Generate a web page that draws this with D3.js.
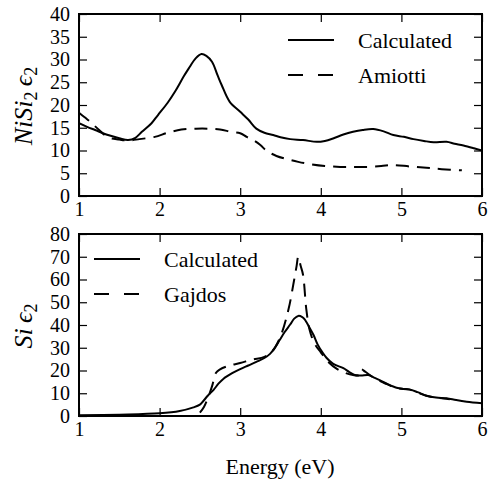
<!DOCTYPE html>
<html>
<head>
<meta charset="utf-8">
<script src="https://cdn.jsdelivr.net/npm/d3@7"></script>
</head>
<body style="margin:0">
<svg id="chart" width="490" height="487" font-family="Liberation Serif"></svg>
<script>
// ---- Data ----
const xTicks = [1, 2, 3, 4, 5, 6];
const topYTicks = [0, 5, 10, 15, 20, 25, 30, 35, 40];
const bottomYTicks = [0, 10, 20, 30, 40, 50, 60, 70, 80];

// NiSi2 eps2, calculated [energy, value]
const nisiCalculated = [
  [1.0,16.0],[1.1,15.2],[1.2,14.5],[1.36,13.4],[1.5,12.7],[1.61,12.3],[1.7,12.8],[1.78,14.1],
  [1.9,16.0],[1.98,17.8],[2.1,20.5],[2.19,22.9],[2.3,26.3],[2.36,28.0],[2.45,30.3],[2.52,31.2],
  [2.58,30.8],[2.65,29.5],[2.72,26.5],[2.77,24.4],[2.87,20.7],[3.0,18.5],[3.1,16.8],[3.2,14.8],
  [3.3,13.9],[3.41,13.4],[3.5,12.9],[3.62,12.5],[3.78,12.3],[3.95,11.9],[4.05,12.1],[4.16,12.7],
  [4.28,13.5],[4.4,14.1],[4.52,14.5],[4.65,14.7],[4.78,14.2],[4.9,13.4],[5.03,13.0],[5.15,12.5],
  [5.28,12.1],[5.4,11.8],[5.56,11.9],[5.66,11.5],[5.77,11.1],[5.9,10.5],[6.0,10.0]
];
// NiSi2 eps2, Amiotti
const nisiAmiotti = [
  [1.0,18.3],[1.07,17.3],[1.14,16.3],[1.25,14.5],[1.36,12.9],[1.5,12.4],[1.61,12.2],[1.75,12.5],
  [1.94,13.0],[2.1,13.9],[2.27,14.6],[2.45,14.8],[2.6,14.8],[2.75,14.6],[2.89,14.1],[3.0,13.8],
  [3.08,13.0],[3.17,12.2],[3.25,11.2],[3.33,9.9],[3.45,8.8],[3.58,8.1],[3.72,7.5],[3.87,7.0],
  [4.05,6.6],[4.24,6.4],[4.4,6.4],[4.57,6.4],[4.75,6.6],[4.9,6.8],[5.1,6.5],[5.31,6.2],
  [5.5,5.9],[5.75,5.65]
];
// Si eps2, calculated
const siCalculated = [
  [1.0,0.3],[1.5,0.6],[2.0,1.2],[2.25,2.2],[2.42,3.8],[2.5,5.0],[2.54,6.5],[2.6,9.0],[2.67,11.5],
  [2.73,14.2],[2.79,16.3],[2.9,18.8],[3.0,20.6],[3.1,22.2],[3.2,23.8],[3.3,25.5],[3.37,27.3],
  [3.43,30.0],[3.49,33.4],[3.55,36.8],[3.62,40.2],[3.67,42.8],[3.72,44.0],[3.77,43.5],[3.8,42.5],
  [3.86,38.8],[3.91,35.6],[3.96,31.5],[4.02,28.0],[4.07,25.6],[4.15,23.0],[4.28,21.0],[4.35,19.4],
  [4.42,18.0],[4.5,17.8],[4.59,18.0],[4.66,16.9],[4.73,15.8],[4.83,14.0],[4.94,12.4],[5.02,11.9],
  [5.1,11.7],[5.2,10.5],[5.31,8.9],[5.43,8.1],[5.56,7.8],[5.68,7.0],[5.81,6.3],[6.0,5.6]
];
// Si eps2, Gajdos
const siGajdos = [
  [2.5,1.5],[2.55,4.0],[2.6,8.0],[2.65,13.0],[2.7,19.0],[2.75,20.5],[2.85,22.0],[3.0,23.3],
  [3.15,24.8],[3.3,26.0],[3.4,28.5],[3.5,35.0],[3.6,47.0],[3.66,58.0],[3.7,66.0],[3.72,70.0],
  [3.75,66.0],[3.78,62.0],[3.82,47.0],[3.86,38.0],[3.92,32.0],[4.0,28.0],[4.1,23.5],[4.2,20.7],
  [4.3,19.0],[4.4,18.0],[4.48,18.0],[4.5,20.5],[4.55,19.5],[4.65,17.0],[4.8,14.3],[4.95,12.2],
  [5.1,11.6],[5.3,9.0],[5.45,8.0],[5.6,7.4]
];

const topLegend = ["Calculated", "Amiotti"];
const bottomLegend = ["Calculated", "Gajdos"];

// ---- Layout ----
const svg = d3.select("#chart");
const L = 79, R = 482;
const panels = [
  { top: 14, bottom: 196, domain: [0, 40], ticks: topYTicks,
    series: [nisiCalculated, nisiAmiotti], legend: topLegend,
    legX: 288, legY: 40, legGap: 35, label: ["NiSi", "2"], labelY: 106 },
  { top: 234, bottom: 416, domain: [0, 80], ticks: bottomYTicks,
    series: [siCalculated, siGajdos], legend: bottomLegend,
    legX: 94, legY: 259, legGap: 35, label: ["Si", null], labelY: 326 }
];

const x = d3.scaleLinear().domain([1, 6]).range([L, R]);

panels.forEach((p, i) => {
  const y = d3.scaleLinear().domain(p.domain).range([p.bottom, p.top]);
  const g = svg.append("g");

  const clipId = "clip" + i;
  svg.append("clipPath").attr("id", clipId)
    .append("rect").attr("x", L).attr("y", p.top).attr("width", R - L).attr("height", p.bottom - p.top);

  const line = d3.line().x(d => x(d[0])).y(d => y(d[1])).curve(d3.curveCatmullRom.alpha(0.5));

  g.append("path").datum(p.series[0]).attr("d", line)
    .attr("fill", "none").attr("stroke", "#000").attr("stroke-width", 2)
    .attr("clip-path", `url(#${clipId})`);
  g.append("path").datum(p.series[1]).attr("d", line)
    .attr("fill", "none").attr("stroke", "#000").attr("stroke-width", 2)
    .attr("stroke-dasharray", "13,8")
    .attr("clip-path", `url(#${clipId})`);

  const ax = (gen, tr) => {
    const a = g.append("g").attr("transform", tr).call(gen)
      .attr("font-family", "Liberation Serif").attr("font-size", 20);
    a.select(".domain").remove();
    a.selectAll(".tick line").attr("stroke", "#000").attr("stroke-width", 1.2);
    a.selectAll(".tick text").attr("font-family", "Liberation Serif").attr("fill", "#000");
    return a;
  };

  ax(d3.axisBottom(x).tickValues(xTicks).tickSize(-8).tickPadding(6).tickFormat(d3.format("d")),
     `translate(0,${p.bottom})`);
  ax(d3.axisTop(x).tickValues(xTicks).tickSize(-8).tickFormat(""), `translate(0,${p.top})`);
  ax(d3.axisLeft(y).tickValues(p.ticks).tickSize(-8).tickPadding(9).tickFormat(d3.format("d")),
     `translate(${L},0)`);
  ax(d3.axisRight(y).tickValues(p.ticks).tickSize(-8).tickFormat(""), `translate(${R},0)`);

  g.append("rect").attr("x", L).attr("y", p.top).attr("width", R - L).attr("height", p.bottom - p.top)
    .attr("fill", "none").attr("stroke", "#000").attr("stroke-width", 2);

  p.legend.forEach((name, k) => {
    const ly = p.legY + k * p.legGap;
    g.append("line").attr("x1", p.legX).attr("x2", p.legX + 46).attr("y1", ly).attr("y2", ly)
      .attr("stroke", "#000").attr("stroke-width", 2)
      .attr("stroke-dasharray", k === 1 ? "15,15" : null);
    g.append("text").attr("x", p.legX + 70).attr("y", ly + 8)
      .attr("font-size", 22).attr("font-family", "Liberation Serif").text(name);
  });

  const t = svg.append("text")
    .attr("transform", `translate(32,${p.labelY}) rotate(-90)`)
    .attr("text-anchor", "middle")
    .attr("font-size", 26).attr("font-family", "Liberation Serif");
  t.append("tspan").attr("font-style", "italic").text(p.label[0]);
  if (p.label[1]) t.append("tspan").attr("font-size", 18).attr("dy", 5).text(p.label[1]);
  t.append("tspan").attr("dy", p.label[1] ? -5 : 0).attr("font-style", "italic").text("\u2009\u03F5");
  t.append("tspan").attr("font-size", 18).attr("dy", 5).text("2");
});

svg.append("text").attr("x", 280).attr("y", 474).attr("text-anchor", "middle")
  .attr("font-size", 22).attr("font-family", "Liberation Serif").text("Energy (eV)");
</script>
</body>
</html>
